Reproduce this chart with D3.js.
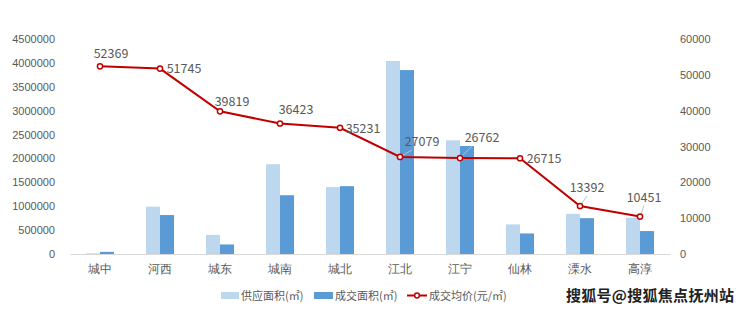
<!DOCTYPE html>
<html>
<head>
<meta charset="utf-8">
<script src="https://cdn.jsdelivr.net/npm/d3@7/dist/d3.min.js"></script>
<style>
body { margin: 0; background: #fff; }
svg { font-family: "Noto Sans CJK SC", "Noto Sans", sans-serif; }
.tick text { fill: #595959; font-size: 11px; }
.lbl { fill: #595959; font-size: 12.5px; }
</style>
</head>
<body>
<svg width="740" height="310"></svg>
<script>
var categories = ["城中", "河西", "城东", "城南", "城北", "江北", "江宁", "仙林", "溧水", "高淳"];
var supply = [15000, 990000, 400000, 1880000, 1400000, 4040000, 2380000, 620000, 840000, 760000];
var deal = [45000, 815000, 200000, 1230000, 1420000, 3850000, 2260000, 430000, 750000, 480000];
var price = [52369, 51745, 39819, 36423, 35231, 27079, 26762, 26715, 13392, 10451];
var leftTicks = [0, 500000, 1000000, 1500000, 2000000, 2500000, 3000000, 3500000, 4000000, 4500000];
var rightTicks = [0, 10000, 20000, 30000, 40000, 50000, 60000];
// label offsets relative to the point (dx, dy of text centre), and leader line flag
var labelPos = [[11, -13, 0], [24, 0, 0], [12, -10, 0], [16, -14, 0], [23, 1, 0],
                [22, -15, 1], [22, -20, 1], [24, 0, 0], [7, -18, 1], [4, -19, 1]];

var svg = d3.select("svg");
var plotTop = 39, plotBottom = 254, plotLeft = 70, plotRight = 670;

var x = d3.scaleBand().domain(categories).range([plotLeft, plotRight]);
var yL = d3.scaleLinear().domain([0, 4500000]).range([plotBottom, plotTop]);
var yR = d3.scaleLinear().domain([0, 60000]).range([plotBottom, plotTop]);
var bw = 14;

// left axis
svg.append("g")
  .attr("transform", "translate(" + (plotLeft - 12) + ",0)")
  .call(d3.axisLeft(yL).tickValues(leftTicks).tickSize(0).tickPadding(3).tickFormat(d3.format("d")))
  .call(function(g) { g.select(".domain").remove(); });

// right axis
svg.append("g")
  .attr("transform", "translate(" + (plotRight + 10) + ",0)")
  .call(d3.axisRight(yR).tickValues(rightTicks).tickSize(0).tickPadding(0).tickFormat(d3.format("d")))
  .call(function(g) { g.select(".domain").remove(); });

// bars
svg.append("g").selectAll("rect")
  .data(supply)
  .join("rect")
  .attr("x", function(d, i) { return x(categories[i]) + x.bandwidth() / 2 - bw; })
  .attr("y", function(d) { return yL(d); })
  .attr("width", bw)
  .attr("height", function(d) { return plotBottom - yL(d); })
  .attr("fill", "#BDD7EE");

svg.append("g").selectAll("rect")
  .data(deal)
  .join("rect")
  .attr("x", function(d, i) { return x(categories[i]) + x.bandwidth() / 2; })
  .attr("y", function(d) { return yL(d); })
  .attr("width", bw)
  .attr("height", function(d) { return plotBottom - yL(d); })
  .attr("fill", "#5B9BD5");

// x axis
var xAxis = svg.append("g")
  .attr("transform", "translate(0," + plotBottom + ")")
  .call(d3.axisBottom(x).tickSize(0).tickPadding(11));
xAxis.select(".domain").attr("stroke", "#D9D9D9");
xAxis.selectAll(".tick text").style("font-size", "11.5px");

// price line
var cx = function(i) { return x(categories[i]) + x.bandwidth() / 2; };
var line = d3.line()
  .x(function(d, i) { return cx(i); })
  .y(function(d) { return yR(d); });

svg.append("path")
  .datum(price)
  .attr("d", line)
  .attr("fill", "none")
  .attr("stroke", "#C00000")
  .attr("stroke-width", 2);

// leader lines
var leaders = price.map(function(d, i) { return i; }).filter(function(i) { return labelPos[i][2]; });
svg.append("g").selectAll("line")
  .data(leaders)
  .join("line")
  .attr("x1", function(i) { return cx(i); })
  .attr("y1", function(i) { return yR(price[i]); })
  .attr("x2", function(i) { return cx(i) + labelPos[i][0] - (labelPos[i][0] > 10 ? 10 : 0); })
  .attr("y2", function(i) { return yR(price[i]) + labelPos[i][1] + 8; })
  .attr("stroke", "#BFBFBF")
  .attr("stroke-width", 1);

svg.append("g").selectAll("circle")
  .data(price)
  .join("circle")
  .attr("cx", function(d, i) { return cx(i); })
  .attr("cy", function(d) { return yR(d); })
  .attr("r", 2.6)
  .attr("fill", "#fff")
  .attr("stroke", "#C00000")
  .attr("stroke-width", 1.5);

svg.append("g").selectAll("text")
  .data(price)
  .join("text")
  .attr("class", "lbl")
  .attr("x", function(d, i) { return cx(i) + labelPos[i][0]; })
  .attr("y", function(d, i) { return yR(d) + labelPos[i][1]; })
  .attr("dy", "0.35em")
  .attr("text-anchor", "middle")
  .text(function(d) { return d; });

// legend
var legend = svg.append("g").style("font-size", "11px").attr("fill", "#595959");
legend.append("rect").attr("x", 221).attr("y", 292).attr("width", 18).attr("height", 7).attr("fill", "#BDD7EE");
legend.append("text").attr("x", 241).attr("y", 299.5).text("供应面积(㎡)");
legend.append("rect").attr("x", 314).attr("y", 292).attr("width", 19).attr("height", 7).attr("fill", "#5B9BD5");
legend.append("text").attr("x", 335).attr("y", 299.5).text("成交面积(㎡)");
legend.append("line").attr("x1", 407).attr("x2", 427).attr("y1", 295.5).attr("y2", 295.5)
  .attr("stroke", "#C00000").attr("stroke-width", 2);
legend.append("circle").attr("cx", 417).attr("cy", 295.5).attr("r", 2.4)
  .attr("fill", "#fff").attr("stroke", "#C00000").attr("stroke-width", 1.5);
legend.append("text").attr("x", 429).attr("y", 299.5).text("成交均价(元/㎡)");

// watermark
svg.append("text")
  .attr("x", 566).attr("y", 301)
  .style("font-size", "15px")
  .style("font-weight", "bold")
  .attr("fill", "#222")
  .attr("textLength", 168)
  .text("搜狐号@搜狐焦点抚州站");
</script>
</body>
</html>
